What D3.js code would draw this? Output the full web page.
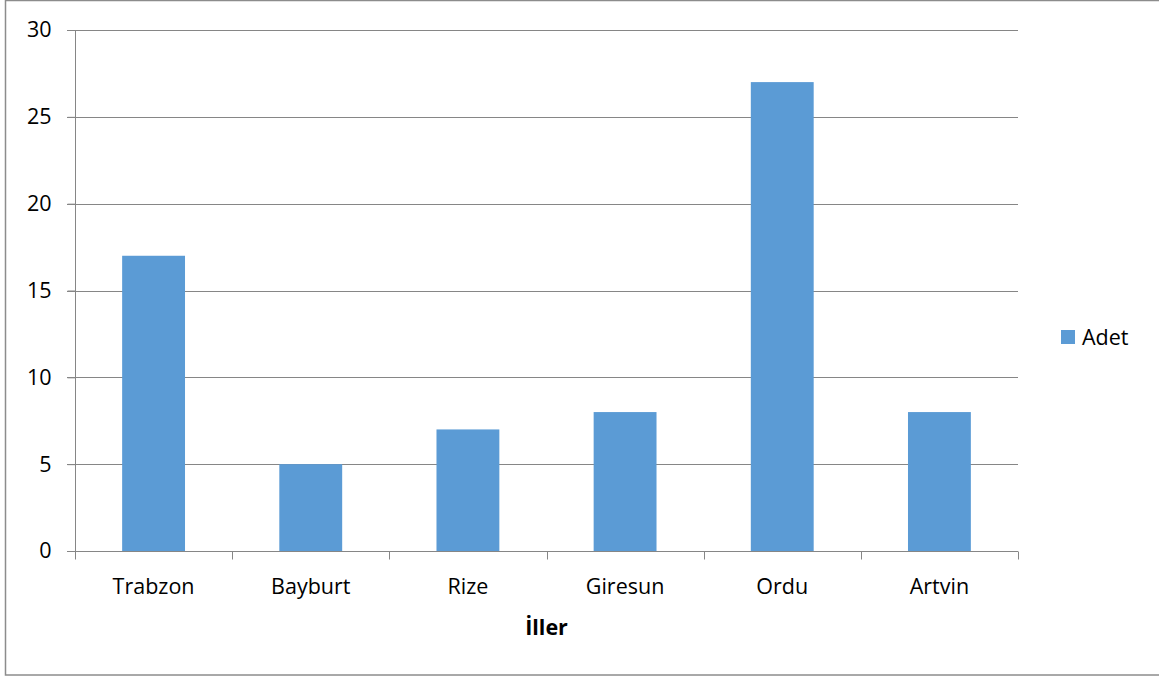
<!DOCTYPE html>
<html>
<head>
<meta charset="utf-8">
<script src="https://cdn.jsdelivr.net/npm/d3@7/dist/d3.min.js"></script>
<style>
  html, body { margin: 0; padding: 0; background: #fff; }
  svg { display: block; }
  text { font-family: "Open Sans", "Liberation Sans", sans-serif; fill: #000; }
</style>
</head>
<body>
<svg id="chart" width="1159" height="677"></svg>
<script>
// Province counts
const categories = ["Trabzon", "Bayburt", "Rize", "Giresun", "Ordu", "Artvin"];
const values = [17, 5, 7, 8, 27, 8];
const seriesName = "Adet";
const yTicks = [0, 5, 10, 15, 20, 25, 30];
const xTitle = "İller";

const svg = d3.select("#chart");
const W = 1159, H = 677;
const plot = { left: 75, right: 1018, top: 30, bottom: 551 };
const barColor = "#5B9BD5";
const lineColor = "#868686";
const fontSize = 21.5;

// Chart frame
svg.append("rect")
  .attr("x", 5.5).attr("y", 0.5)
  .attr("width", W + 10).attr("height", 674.5)
  .attr("fill", "#fff").attr("stroke", "#8c8c8c").attr("stroke-width", 1.5);

const x = d3.scaleBand()
  .domain(categories)
  .range([plot.left, plot.right])
  .paddingInner(0.6)
  .paddingOuter(0.3);

const y = d3.scaleLinear()
  .domain([0, 30])
  .range([plot.bottom, plot.top]);

// Horizontal gridlines
svg.append("g")
  .selectAll("line")
  .data(yTicks.filter(d => d > 0))
  .join("line")
  .attr("x1", plot.left - 8).attr("x2", plot.right)
  .attr("y1", d => Math.round(y(d)) + 0.5).attr("y2", d => Math.round(y(d)) + 0.5)
  .attr("stroke", lineColor).attr("stroke-width", 1);

// Bars
svg.append("g")
  .selectAll("rect")
  .data(values)
  .join("rect")
  .attr("x", (d, i) => x(categories[i]))
  .attr("width", x.bandwidth())
  .attr("y", d => y(d))
  .attr("height", d => y(0) - y(d))
  .attr("fill", barColor);

// Y axis
const yAxis = svg.append("g")
  .attr("transform", `translate(${plot.left + 0.5},0)`)
  .call(d3.axisLeft(y).tickValues(yTicks).tickSize(8).tickPadding(16));
yAxis.select(".domain").attr("stroke", lineColor).attr("d", `M0,${plot.top}V${plot.bottom}`);
yAxis.selectAll(".tick line").attr("stroke", lineColor);
yAxis.selectAll(".tick text")
  .attr("font-size", fontSize).attr("fill", "#000")
  .attr("font-family", "'Open Sans', sans-serif");

// X axis with tick marks at category boundaries
const xAxisG = svg.append("g")
  .attr("transform", `translate(0,${Math.round(plot.bottom) + 0.5})`);
xAxisG.append("line")
  .attr("x1", plot.left - 8).attr("x2", plot.right)
  .attr("stroke", lineColor);
const boundaries = d3.range(categories.length + 1)
  .map(i => plot.left + i * x.step());
xAxisG.selectAll("line.b")
  .data(boundaries)
  .join("line")
  .attr("class", "b")
  .attr("x1", d => Math.round(d) + 0.5).attr("x2", d => Math.round(d) + 0.5)
  .attr("y1", 0).attr("y2", 8)
  .attr("stroke", lineColor);
xAxisG.selectAll("text")
  .data(categories)
  .join("text")
  .attr("x", d => x(d) + x.bandwidth() / 2)
  .attr("y", 42)
  .attr("text-anchor", "middle")
  .attr("font-size", fontSize)
  .text(d => d);

// X axis title
svg.append("text")
  .attr("x", (plot.left + plot.right) / 2)
  .attr("y", 635)
  .attr("text-anchor", "middle")
  .attr("font-size", fontSize)
  .attr("font-weight", "bold")
  .text(xTitle);

// Legend
const legend = svg.append("g").attr("transform", "translate(1061,330)");
legend.append("rect").attr("width", 14).attr("height", 14).attr("fill", barColor);
legend.append("text").attr("x", 21).attr("y", 15).attr("font-size", fontSize).text(seriesName);
</script>
</body>
</html>
